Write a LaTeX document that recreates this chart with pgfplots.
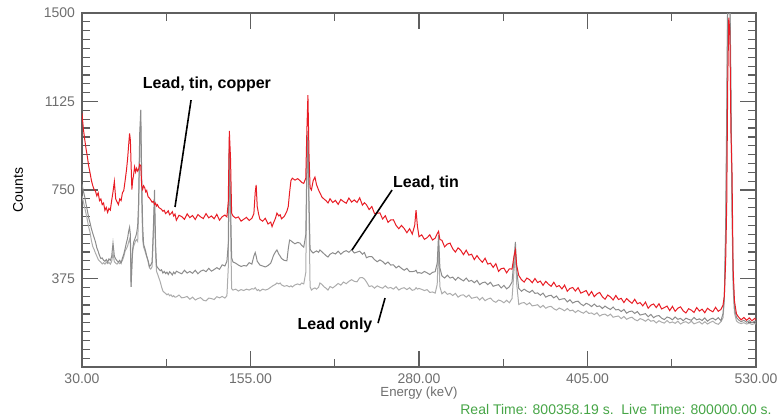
\documentclass[border=0pt]{standalone}
\usepackage{fontspec}
\setmainfont{Liberation Sans}
\usepackage{pgfplots}
\usepackage{pgfplotstable}
\pgfplotsset{compat=1.18}
\definecolor{spred}{RGB}{232,28,36}
\definecolor{sptin}{RGB}{140,140,140}
\definecolor{splead}{RGB}{172,172,172}
\definecolor{axgray}{RGB}{95,95,95}
\definecolor{lblgray}{RGB}{110,110,110}
\definecolor{timegreen}{RGB}{70,165,70}

% x = energy (keV); r = lead+tin+copper, t = lead+tin, l = lead only
\pgfplotstableread{
x r t l
30 1075 775 725
31 1010 745 700
32 965 722 676
33 925 690 650
34 890 662 622
35 850 632 592
36 822 610 570
37 790 585 535
38 768 566 510
39 752 548 498
40 745 530 482
41 725 505 470
42 738 490 456
43 705 472 449
44 712 460 444
45 688 462 437
46 695 452 442
47 664 448 436
48 676 455 444
49 655 444 438
50 672 458 443
51 665 452 436
52 705 468 448
53 742 525 482
54 786 470 446
55 712 458 440
56 700 450 436
57 688 445 444
58 712 452 438
59 705 440 443
60 738 462 452
61 748 478 468
62 790 502 492
63 835 528 502
63.8 880 545 512
64.6 940 575 530
65.3 990 592 542
65.9 960 560 520
66.4 860 340 340
67 752 430 430
67.6 790 500 490
68.3 815 528 512
69 848 540 522
69.8 826 552 535
70.5 842 566 540
71.3 830 598 532
72 838 700 650
72.8 858 990 940
73.6 852 1090 1040
74.3 768 800 700
75 752 600 540
75.7 768 520 508
76.5 760 505 496
77.3 742 488 480
78 748 470 468
79 722 452 448
80 716 426 420
81 708 432 415
82 698 445 425
83 702 600 560
83.8 688 750 702
84.6 694 520 470
85.3 682 428 405
86 688 422 395
87 676 415 378
88 672 408 362
89 668 412 340
90 660 398 322
91 664 405 316
92 650 396 312
93 655 402 306
94 662 392 310
95 645 404 302
96 650 398 306
97 658 390 298
98 640 402 302
99 648 395 296
100 622 406 297
102 643 400 305
104 637 395 293
106 626 410 295
108 649 398 299
110 633 405 287
112 642 397 296
114 625 410 284
116 646 395 290
118 636 406 294
120 629 411 283
122 650 404 280
124 632 418 292
126 640 406 290
128 628 413 286
130 647 421 298
132 622 414 293
134 637 433 299
136 644 428 292
137.5 636 448 302
138.5 700 520 420
139.3 1000 960 930
140.2 880 700 600
141 652 462 332
142 640 445 326
144 631 440 330
146 636 432 322
148 618 426 328
150 626 430 324
152 634 428 330
154 621 442 326
156 630 436 332
157.5 650 470 330
158.5 740 485 336
159.2 772 470 330
160 680 448 324
161 648 440 328
162 626 432 322
164 618 428 330
166 630 424 326
168 606 430 330
170 614 440 338
171 595 455 342
172 610 472 346
173.5 630 488 350
174.6 652 496 356
176 640 478 352
177 645 470 356
178 628 460 348
180 638 452 342
182 660 450 345
183 680 500 342
184 740 538 340
185 790 535 344
186 800 530 339
188 792 522 348
190 798 528 352
191.7 790 525 348
193 782 515 356
194.5 778 508 352
196 800 560 400
196.8 1000 850 800
197.6 1152 1000 950
198.4 900 700 650
199.2 760 500 340
200.2 750 490 326
201.5 790 483 332
202.8 805 488 335
204 772 492 330
205.5 750 486 338
206.5 738 496 356
208 720 488 350
209.5 712 480 340
211 705 472 334
212.5 695 466 326
214 713 478 341
216 697 484 335
218 706 479 344
220 689 491 354
222 710 478 347
224 701 488 360
226 694 493 353
228 716 486 363
230 699 497 370
232 708 483 363
234 697 487 361
236 717 491 378
238 686 478 379
239.5 696 485 373
241 688 463 361
243 667 468 341
245 680 468 344
247 650 455 334
249 652 446 344
251 653 454 338
253 627 447 334
255 641 436 344
257 613 445 334
259 623 432 337
261 624 433 330
263 600 420 340
265 586 428 326
267 600 418 333
269 587 410 336
271 569 418 328
273 586 404 336
275 563 404 325
276.8 600 406 328
277.8 665 410 336
278.8 598 398 330
280 552 400 333
282 560 397 329
284 541 405 324
286 548 399 328
288 560 392 316
290 538 401 318
292 546 404 313
293.5 565 440 350
294.5 575 560 520
295.5 540 420 340
297 537 386 310
299 509 377 320
301 521 389 308
303 525 377 312
305 501 381 303
307 487 368 312
309 505 380 296
311 494 372 304
313 476 365 306
315 495 377 296
317 474 363 305
319 478 367 291
321 455 357 294
323 472 367 297
325 456 349 284
327 444 357 295
329 461 360 281
331 436 349 288
333 440 359 292
335 422 342 280
337 438 346 274
339 405 349 284
341 417 335 280
343 419 346 272
345 399 331 283
347 416 340 272
349 415 360 290
350.5 470 460 410
351.5 495 530 480
352.5 430 410 350
354 388 333 265
356 370 321 271
358 360 330 273
360 377 322 264
362 370 316 272
364 357 325 259
366 375 312 261
368 358 314 264
370 364 304 252
372 346 313 261
374 363 296 249
376 351 302 255
378 342 304 257
380 359 293 247
382 340 301 241
384 345 285 250
386 331 288 245
388 347 290 238
390 321 276 248
392 333 285 238
394 337 271 241
396 322 277 231
398 336 279 240
400 313 267 233
402 318 260 228
404 324 270 237
406 303 265 227
408 320 256 229
410 298 267 222
412 310 256 230
414 316 259 216
416 298 248 222
418 287 258 224
420 305 250 216
422 297 244 224
424 284 254 211
426 303 242 214
428 286 244 216
430 291 235 205
432 273 244 214
434 290 228 202
436 279 235 208
438 270 237 211
440 287 227 201
442 268 235 196
444 273 220 205
446 259 223 201
448 275 226 194
450 249 213 203
452 262 223 194
454 267 209 197
456 252 216 187
458 268 218 196
460 246 207 190
462 252 201 186
464 258 212 197
466 239 208 187
468 257 200 191
470 236 212 185
472 249 202 194
474 255 206 182
476 238 196 189
478 229 207 192
480 247 202 185
482 241 198 194
484 231 210 183
486 252 200 187
488 237 204 192
490 245 197 182
492 230 208 192
494 249 194 182
496 240 203 189
498 234 207 194
500 253 199 185
502 236 209 181
504 244 196 192
505.5 262 226 208
506.5 300 300 280
507.5 450 600 560
508.3 700 1100 1000
509 1200 1600 1550
509.8 1480 1650 1600
510.6 1420 1600 1550
511.4 1000 1200 1100
512.2 820 700 650
513 420 380 340
514 280 250 230
515.5 225 210 195
517 212 200 188
519 200 192 184
521 210 198 188
523 198 190 182
525 208 196 186
527 196 188 180
529 206 194 184
530 200 190 182
}\spectra

\begin{document}
\begin{tikzpicture}
\begin{axis}[
    name=ax,
    scale only axis,
    width=337pt, height=177pt,
    xmin=30, xmax=530, ymin=0, ymax=1500,
    xtick={30,155,280,405,530},
    xticklabels={30.00,155.00,280.00,405.00,530.00},
    minor xtick={92.5,217.5,342.5,467.5},
    ytick={375,750,1125,1500},
    minor ytick={0,37.5,...,1500},
    tick align=inside,
    major tick length=8pt, minor tick length=4pt,
    every tick/.style={draw=axgray, line width=0.6pt},
    axis line style={draw=axgray, line width=0.7pt},
    ticklabel style={font=\fontsize{7}{8}\selectfont, text=lblgray},
    /pgf/number format/assume math mode=true,
    /pgf/number format/1000 sep={},
    clip mode=individual,
]
\addplot[color=splead, line width=0.5pt] table[x=x, y=l] {\spectra};
\addplot[color=sptin, line width=0.5pt] table[x=x, y=t] {\spectra};
\addplot[color=spred, line width=0.5pt] table[x=x, y=r] {\spectra};

\node[font=\bfseries\fontsize{8}{9}\selectfont] at (axis cs:122.7,1199) {Lead, tin, copper};
\draw[line width=0.8pt] (axis cs:110.9,1131) -- (axis cs:99,678);
\node[font=\bfseries\fontsize{8}{9}\selectfont] at (axis cs:285.2,780) {Lead, tin};
\draw[line width=0.8pt] (axis cs:260,750) -- (axis cs:230.3,496);
\node[font=\bfseries\fontsize{8}{9}\selectfont] at (axis cs:217.7,178) {Lead only};
\draw[line width=0.8pt] (axis cs:249.6,186) -- (axis cs:254.8,292);

\node[font=\fontsize{6.6}{8}\selectfont, text=lblgray] at (rel axis cs:0.5,0) [yshift=-13pt] {Energy (keV)};
\node[xshift=-32pt, rotate=90, font=\fontsize{7}{8}\selectfont] at (rel axis cs:0,0.5) {Counts};
\node[font=\fontsize{7}{8}\selectfont, text=timegreen] at (rel axis cs:0,0) [xshift=267pt, yshift=-21pt] {Real Time: 800358.19 s.\ \ Live Time: 800000.00 s.};
\end{axis}
\pgfresetboundingbox
\useasboundingbox ([shift={(-41pt,-26pt)}]ax.south west) rectangle ([shift={(14pt,6.5pt)}]ax.north east);
\end{tikzpicture}
\end{document}
